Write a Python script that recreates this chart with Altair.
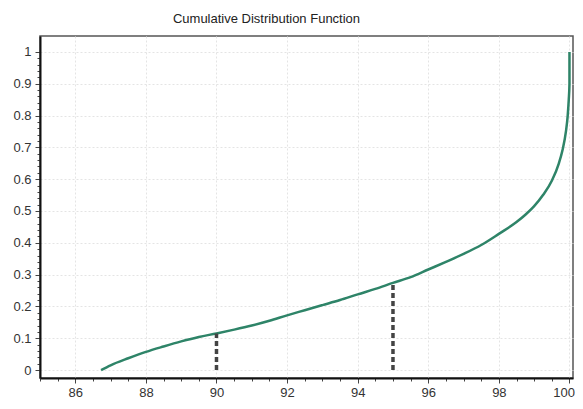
import altair as alt
import pandas as pd

# CDF curve
cdf_x = [86.73, 87.0, 87.5, 88.0, 88.5, 89.0, 89.5, 90.0, 90.5, 91.0, 91.5, 92.0,
         92.5, 93.0, 93.5, 94.0, 94.5, 95.0, 95.5, 96.0, 96.5, 97.0, 97.5, 98.0,
         98.5, 98.75, 99.0, 99.25, 99.5, 99.7, 99.8, 99.9, 99.95, 99.98, 100.0, 100.0]
cdf_y = [0.000, 0.015, 0.037, 0.057, 0.074, 0.090, 0.104, 0.115, 0.127, 0.140, 0.155, 0.172,
         0.188, 0.204, 0.220, 0.238, 0.255, 0.274, 0.292, 0.316, 0.340, 0.365, 0.393, 0.428,
         0.465, 0.488, 0.515, 0.550, 0.595, 0.650, 0.690, 0.750, 0.800, 0.850, 0.900, 1.000]

# dashed markers
marker_x = [90, 95]
marker_y = [0.115, 0.274]

x_ticks = [85 + 0.5 * i for i in range(31)]
y_ticks = [round(0.02 * i, 2) for i in range(51)]

curve = pd.DataFrame({"x": cdf_x, "y": cdf_y, "order": list(range(len(cdf_x)))})
marks = pd.DataFrame({"x": marker_x, "y0": [0, 0], "y1": marker_y})

x_major = "abs(datum.value/2 - round(datum.value/2)) < 0.001"
y_major = "abs(datum.value*10 - round(datum.value*10)) < 0.001"

x_scale = alt.Scale(domain=[85, 100.1], nice=False, zero=False)
y_scale = alt.Scale(domain=[-0.025, 1.05], nice=False, zero=False)

x_axis = alt.Axis(
    title=None, values=x_ticks,
    labelExpr=f"({x_major}) ? format(datum.value, 'd') : ''",
    labelOverlap=False, labelFlush=6, labelFlushOffset=5,
    tickSize={"condition": {"test": x_major, "value": 5}, "value": 3},
    gridOpacity={"condition": {"test": x_major, "value": 1}, "value": 0},
    gridColor="#e4e4e4", gridDash=[2, 2], gridWidth=1,
    domainColor="#111111", domainWidth=2, tickColor="#444444", tickWidth=1,
    labelFont="Liberation Sans", labelFontSize=13, labelColor="#333333", labelPadding=3,
)
y_axis = alt.Axis(
    title=None, values=y_ticks,
    labelExpr=f"({y_major}) ? format(datum.value, '.1~f') : ''",
    labelOverlap=False, labelFlush=False,
    tickSize={"condition": {"test": y_major, "value": 5}, "value": 3},
    gridOpacity={"condition": {"test": y_major, "value": 1}, "value": 0},
    gridColor="#e4e4e4", gridDash=[2, 2], gridWidth=1,
    domainColor="#111111", domainWidth=2, tickColor="#444444", tickWidth=1,
    labelFont="Liberation Sans", labelFontSize=13, labelColor="#333333", labelPadding=4,
)

line = alt.Chart(curve).mark_line(color="#2e8468", strokeWidth=2.5, interpolate="monotone").encode(
    x=alt.X("x:Q", scale=x_scale, axis=x_axis),
    y=alt.Y("y:Q", scale=y_scale, axis=y_axis),
    order="order:Q",
)

dashes = alt.Chart(marks).mark_rule(color="#444444", strokeWidth=3.5, strokeDash=[5, 3]).encode(
    x=alt.X("x:Q", scale=x_scale, axis=x_axis),
    y=alt.Y("y0:Q", scale=y_scale, axis=y_axis),
    y2="y1:Q",
)

chart = alt.layer(line, dashes).properties(
    width=533, height=342,
    title=alt.TitleParams("Cumulative Distribution Function", font="Liberation Sans",
                          fontSize=13, fontWeight="normal", color="#222222",
                          anchor="middle", dx=-40, offset=10),
    autosize=alt.AutoSizeParams(type="none"),
    padding={"left": 32, "top": 28, "right": 2, "bottom": 22},
).configure_view(stroke="#555555", strokeWidth=1.5)

chart.save("out.html", embed_options={"renderer": "svg", "actions": False})
